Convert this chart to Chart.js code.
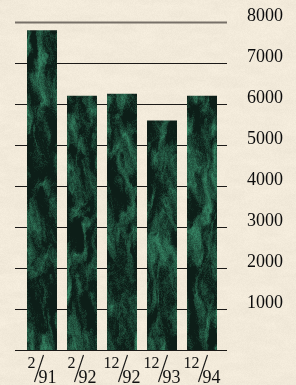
<!DOCTYPE html>
<html>
<head>
<meta charset="utf-8">
<script src="https://cdn.jsdelivr.net/npm/chart.js@4/dist/chart.umd.min.js"></script>
<style>
  html, body { margin: 0; padding: 0; background: #f2ead9; }
  #wrap { width: 296px; height: 385px; }
</style>
</head>
<body>
<div id="wrap"><canvas id="myChart" width="296" height="385"></canvas></div>
<script>
// data
const periodMonths = ['2', '2', '12', '12', '12'];
const periodYears = ['91', '92', '92', '93', '94'];
const values = [7800, 6200, 6250, 5600, 6200];
const yTicks = [1000, 2000, 3000, 4000, 5000, 6000, 7000, 8000];

const labels = periodMonths.map((m, i) => m + '/' + periodYears[i]);

// cheap deterministic hash + value noise for the textures
const hash = (x, y) => {
    let h = Math.sin(x * 127.1 + y * 311.7) * 43758.5453;
    return h - Math.floor(h);
};
const noise = (x, y) => {
    const xi = Math.floor(x), yi = Math.floor(y);
    let fx = x - xi, fy = y - yi;
    fx = fx * fx * (3 - 2 * fx);
    fy = fy * fy * (3 - 2 * fy);
    const a = hash(xi, yi), b = hash(xi + 1, yi);
    const c = hash(xi, yi + 1), d = hash(xi + 1, yi + 1);
    return a + (b - a) * fx + (c - a) * fy + (a - b - c + d) * fx * fy;
};
const fbm = (x, y) => {
    let s = 0, amp = 0.5, f = 1;
    for (let o = 0; o < 5; o++) {
        s += amp * noise(x * f, y * f);
        f *= 2; amp *= 0.5;
    }
    return s;
};

const makeTexture = (fn) => {
    const w = 296, h = 385;
    const c = document.createElement('canvas');
    c.width = w; c.height = h;
    const cx = c.getContext('2d');
    const img = cx.createImageData(w, h);
    for (let y = 0; y < h; y++) {
        for (let x = 0; x < w; x++) {
            const rgb = fn(x, y);
            const i = (y * w + x) * 4;
            img.data[i] = rgb[0];
            img.data[i + 1] = rgb[1];
            img.data[i + 2] = rgb[2];
            img.data[i + 3] = 255;
        }
    }
    cx.putImageData(img, 0, 0);
    return c;
};

// green marble fill for the bars
const marble = (() => {
    const c = makeTexture((x, y) => {
        const warp = fbm(x / 20, y / 40) * 4;
        let v = fbm(x / 7 + warp, y / 20 + warp);
        v = (v - 0.38) * 2.1;
        const t = 1 - Math.abs(Math.sin(x / 10 + y / 70 + warp * 2));
        v += Math.pow(t, 6) * 0.25;
        v += (hash(x, y) - 0.5) * 0.3;
        v = Math.max(0, Math.min(1, v));
        return [13 + v * 40, 30 + v * 100, 24 + v * 74];
    });
    return c.getContext('2d').createPattern(c, 'no-repeat');
})();

// parchment speckle behind everything
const paper = makeTexture((x, y) => {
    let v = fbm(x / 18, y / 6) * 0.6 + hash(x, y) * 0.4;
    const d = (v - 0.5) * 14;
    return [242 + d, 234 + d, 218 + d];
});

const paperPlugin = {
    id: 'paperPlugin',
    beforeDraw(chart) {
        chart.ctx.drawImage(paper, 0, 0);
    }
};

// grid lines reach a bit past the bars on both sides
const gridPlugin = {
    id: 'gridPlugin',
    beforeDatasetsDraw(chart) {
        const ctx = chart.ctx;
        const y = chart.scales.y;
        const left = chart.chartArea.left - 7;
        const right = chart.chartArea.right + 5;
        ctx.save();
        [0].concat(yTicks).forEach(v => {
            const py = Math.round(y.getPixelForValue(v)) + 0.5;
            ctx.beginPath();
            if (v === 8000) {
                ctx.strokeStyle = '#777068';
                ctx.lineWidth = 2;
            } else {
                ctx.strokeStyle = '#1c1a18';
                ctx.lineWidth = 1.2;
            }
            ctx.moveTo(left, py);
            ctx.lineTo(right, py);
            ctx.stroke();
        });
        ctx.restore();
    }
};

// fraction style category labels (month over year)
const fractionLabels = {
    id: 'fractionLabels',
    afterDraw(chart) {
        const ctx = chart.ctx;
        const x = chart.scales.x;
        const base = chart.chartArea.bottom;
        ctx.save();
        ctx.fillStyle = '#111';
        ctx.strokeStyle = '#111';
        ctx.lineWidth = 1.1;
        ctx.textBaseline = 'alphabetic';
        periodMonths.forEach((m, i) => {
            const yr = periodYears[i];
            ctx.font = '16px "Liberation Serif", serif';
            const wn = ctx.measureText(m).width;
            ctx.font = '18px "Liberation Serif", serif';
            const wd = ctx.measureText(yr).width;
            const total = wn + 3 + wd;
            const cx = x.getPixelForValue(i);
            const x0 = cx - total / 2 + wn;
            ctx.font = '16px "Liberation Serif", serif';
            ctx.textAlign = 'right';
            ctx.fillText(m, x0, base + 18);
            ctx.font = '18px "Liberation Serif", serif';
            ctx.textAlign = 'left';
            ctx.fillText(yr, x0 + 3, base + 33);
            ctx.beginPath();
            ctx.moveTo(x0 + 8, base + 5);
            ctx.lineTo(x0 - 1, base + 32);
            ctx.stroke();
        });
        ctx.restore();
    }
};

const myChart = new Chart(document.getElementById('myChart').getContext('2d'), {
    type: 'bar',
    data: {
        labels: labels,
        datasets: [{
            data: values,
            backgroundColor: marble,
            borderWidth: 0,
            barPercentage: 0.75,
            categoryPercentage: 1
        }]
    },
    options: {
        responsive: false,
        animation: false,
        layout: { padding: { top: 22, left: 22, right: 0, bottom: 35 } },
        plugins: { legend: { display: false }, tooltip: { enabled: false } },
        scales: {
            x: { display: false },
            y: {
                position: 'right',
                min: 0,
                max: 8000,
                afterFit: s => { s.width = 74; s.paddingTop = 0; s.paddingBottom = 0; },
                grid: { display: false, drawTicks: false },
                border: { display: false },
                ticks: {
                    stepSize: 1000,
                    padding: 25,
                    labelOffset: -6,
                    color: '#0c0c0c',
                    font: { family: '"Liberation Serif", serif', size: 18 },
                    callback: v => (v === 0 ? '' : v)
                }
            }
        }
    },
    plugins: [paperPlugin, gridPlugin, fractionLabels]
});
</script>
</body>
</html>
